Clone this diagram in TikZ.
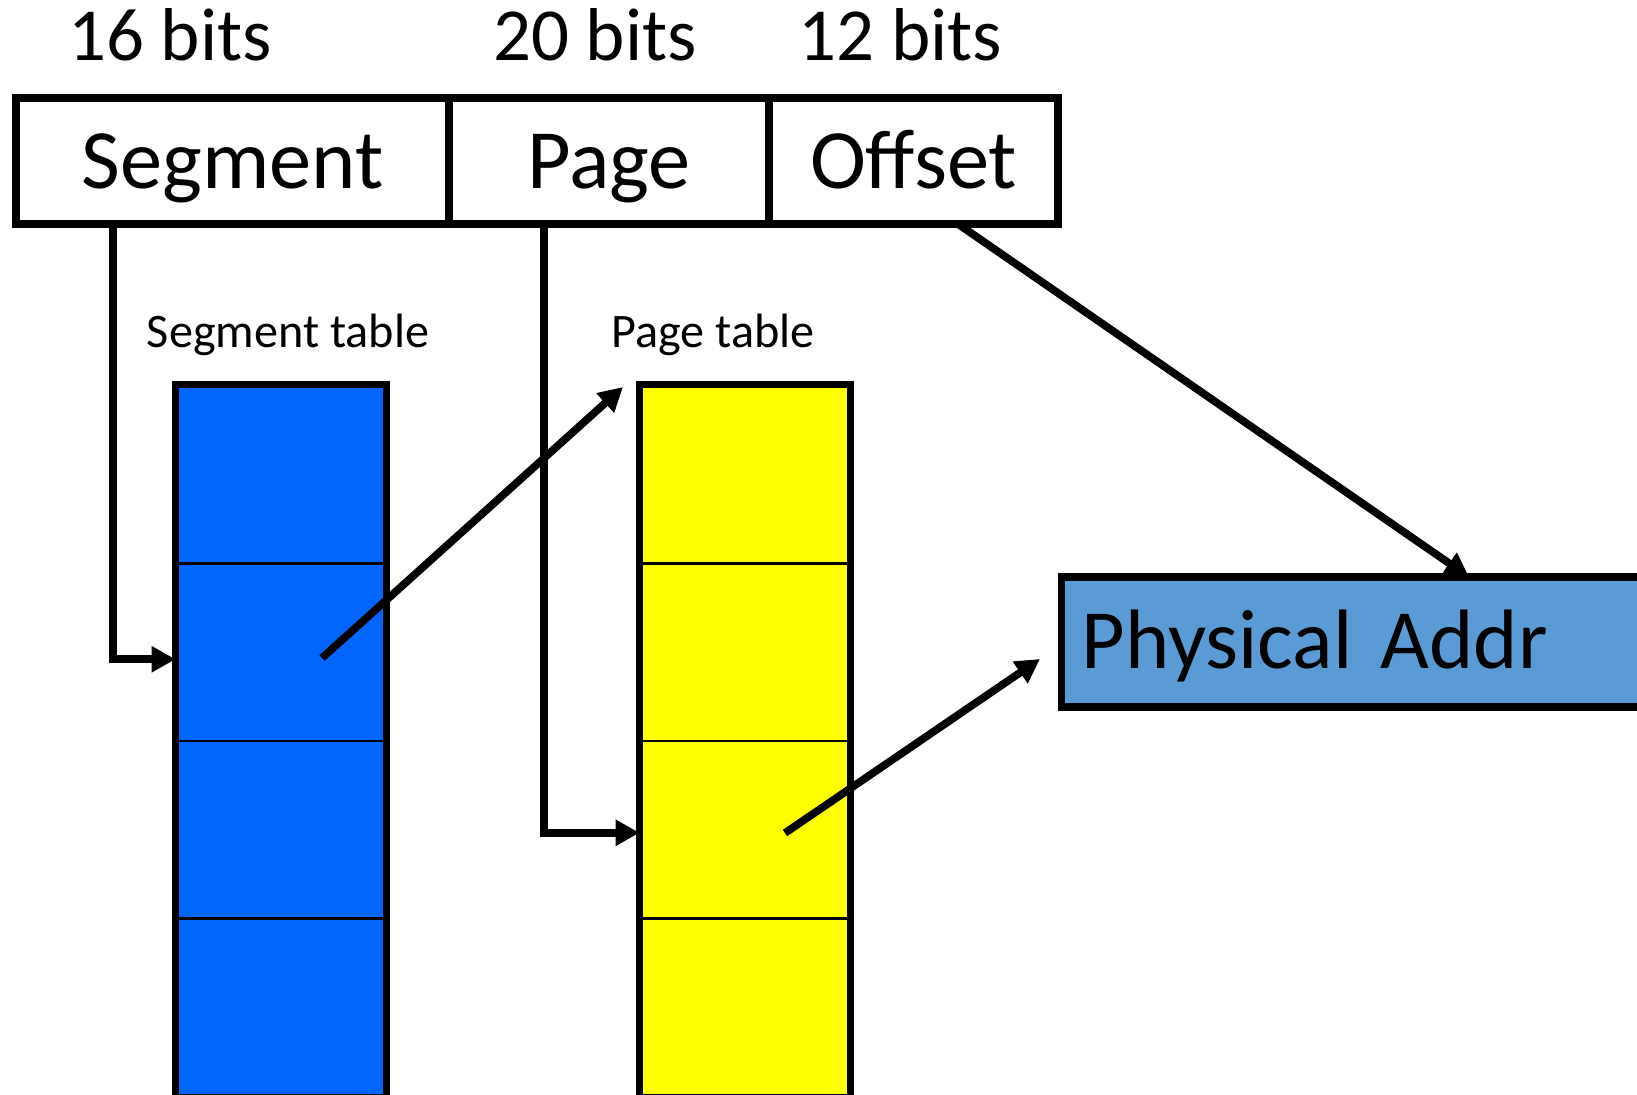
\documentclass[tikz,border=0pt]{standalone}
\usepackage{fontspec}
\setmainfont{Carlito}
\usetikzlibrary{arrows.meta}

\definecolor{segblue}{RGB}{0,102,255}
\definecolor{pgyellow}{RGB}{255,255,0}
\definecolor{physblue}{RGB}{91,155,213}

\tikzset{
  field/.style={rectangle, draw, line width=2.1pt, minimum height=1.26cm, inner sep=0pt,
    font=\fontsize{24}{28}\selectfont, text height=0.55cm, text depth=0cm},
  bits/.style={font=\fontsize{21.3}{25}\selectfont, inner sep=0pt},
  tabtitle/.style={font=\fontsize{13.7}{16}\selectfont, inner sep=0pt},
  segrow/.style={rectangle, draw, line width=0.8pt, fill=segblue, minimum width=2.08cm, minimum height=1.775cm, inner sep=0pt},
  pgrow/.style={segrow, fill=pgyellow},
  physbox/.style={rectangle, draw, line width=2.1pt, fill=physblue, anchor=west, minimum height=1.3cm,
    inner xsep=0.2cm, inner ysep=0pt, text width=6.5cm, align=left,
    font=\fontsize{24}{28}\selectfont, text height=0.53cm, text depth=0cm},
  arr/.style={line width=2.2pt, -{Triangle[length=0.24cm,width=0.25cm]}}
}

\begin{document}
\begin{tikzpicture}[x=0.01cm, y=-0.01cm]
  \clip (0,0) rectangle (1637,1094);
  \fill[white] (0,0) rectangle (1637,1094);

  % Address fields
  \node[bits, anchor=base] (b16) at (170,61) {16 bits};
  \node[bits, anchor=base] (b20) at (595,61) {20 bits};
  \node[bits, anchor=base] (b12) at (900,61) {12 bits};
  \node[field, minimum width=4.33cm] (seg) at (232.5,161) {Segment};
  \node[field, minimum width=3.20cm] (pag) at (609,161) {Page};
  \node[field, minimum width=2.89cm] (off) at (913.5,161) {Offset};

  % Tables
  \node[tabtitle, anchor=base] (segtitle) at (288,347) {Segment table};
  \node[tabtitle, anchor=base] (pgtitle) at (713,347) {Page table};
  \foreach \i in {1,...,4} {
    \node[segrow] (s\i) at (281,{297.25+177.5*\i}) {};
    \node[pgrow] (p\i) at (745,{297.25+177.5*\i}) {};
  }
  \draw[line width=2.1pt] (s1.north west) rectangle (s4.south east);
  \draw[line width=2.1pt] (p1.north west) rectangle (p4.south east);

  % Physical address
  \node[physbox] (phys) at (1058,642) {Physical Addr};

  % Connections
  \coordinate (segdown) at (113,224);
  \coordinate (pgdown) at (544,224);
  \coordinate (offdown) at (958,224);
  \coordinate (physin) at (1469,577);
  \coordinate (segptr) at (322,658);
  \coordinate (pgtop) at (623,387);
  \coordinate (pgptr) at (785,833);
  \coordinate (physleft) at (1040,659);
  \draw[arr] (segdown) |- ([yshift=-0.07cm]s2.west);
  \draw[arr] (pgdown) |- ([yshift=-0.03cm]p3.west);
  \draw[arr] (segptr) -- (pgtop);
  \draw[arr] (pgptr) -- (physleft);
  \draw[arr] (offdown) -- (physin);
\end{tikzpicture}
\end{document}
